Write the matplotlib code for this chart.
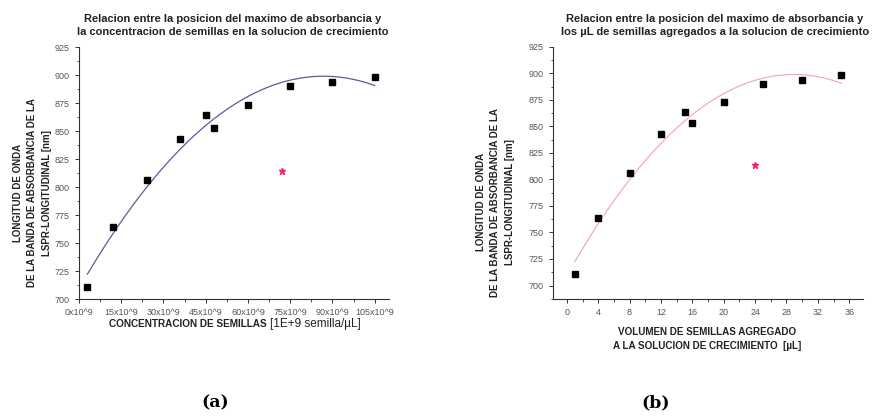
import numpy as np
import matplotlib.pyplot as plt
from matplotlib.ticker import MultipleLocator

# concentration of seeds [1E+9 semilla/uL] and added volume [uL]
conc = [3, 12, 24, 36, 45, 48, 60, 75, 90, 105]
vol = [1, 4, 8, 12, 15, 16, 20, 25, 30, 35]
peak_nm = [711, 764, 806, 843, 864, 853, 873, 890, 894, 898]

# outlier (red point), left out of the fit
conc_out = [72]
vol_out = [24]
peak_out = [814]

conc_ticks = [0, 15, 30, 45, 60, 75, 90, 105]
vol_ticks = [0, 4, 8, 12, 16, 20, 24, 28, 32, 36]

plt.rcParams['font.family'] = ['Liberation Sans', 'DejaVu Sans']

fig = plt.figure(figsize=(8.75, 4.16), dpi=100)
axL = fig.add_axes([0.0903, 0.281, 0.354, 0.606])
axR = fig.add_axes([0.6317, 0.2805, 0.355, 0.607])


def style(ax):
    for s in ['top', 'right']:
        ax.spines[s].set_visible(False)
    for s in ['left', 'bottom']:
        ax.spines[s].set_color('#333333')
        ax.spines[s].set_linewidth(0.8)
    ax.tick_params(which='major', direction='out', length=3, width=0.7,
                   colors='#333333', labelsize=6.5, labelcolor='#555555')
    ax.tick_params(which='minor', direction='out', length=1.8, width=0.6,
                   colors='#333333')
    ax.yaxis.set_major_locator(MultipleLocator(25))
    ax.yaxis.set_minor_locator(MultipleLocator(12.5))


# (a) concentration
c = np.polyfit(conc, peak_nm, 2)
xs = np.linspace(conc[0], conc[-1], 200)
axL.plot(xs, np.polyval(c, xs), color='#5b5b99', lw=0.9)
axL.plot(conc, peak_nm, 's', color='black', ms=5)
axL.plot(conc_out, peak_out, '*', color='#ff2060', ms=5)
axL.set_xlim(0, 110)
axL.set_ylim(700, 925)
style(axL)
axL.set_xticks(conc_ticks)
axL.set_xticklabels([f"{v}x10^9" for v in conc_ticks])
axL.xaxis.set_minor_locator(MultipleLocator(7.5))

# (b) volume
c2 = np.polyfit(vol, peak_nm, 2)
xs2 = np.linspace(vol[0], vol[-1], 200)
axR.plot(xs2, np.polyval(c2, xs2), color='#f2a2b6', lw=0.8)
axR.plot(vol, peak_nm, 's', color='black', ms=5)
axR.plot(vol_out, peak_out, '*', color='#ff2060', ms=5)
axR.set_xlim(-1.8, 37.8)
axR.set_ylim(687, 925)
style(axR)
axR.set_xticks(vol_ticks)
axR.xaxis.set_minor_locator(MultipleLocator(2))

# titles
fig.text(0.266, 0.939, "Relacion entre la posicion del maximo de absorbancia y\n"
         "la concentracion de semillas en la solucion de crecimiento",
         ha='center', va='center', fontsize=8, fontweight='bold', color='#222222',
         linespacing=1.3)
fig.text(0.817, 0.939, "Relacion entre la posicion del maximo de absorbancia y\n"
         "los \u00b5L de semillas agregados a la solucion de crecimiento",
         ha='center', va='center', fontsize=8, fontweight='bold', color='#222222',
         linespacing=1.3)

# y labels
ylab = "LONGITUD DE ONDA\nDE LA BANDA DE ABSORBANCIA DE LA\nLSPR-LONGITUDINAL [nm]"
fig.text(0.037, 0.536, ylab, rotation=90, ha='center', va='center', fontsize=7,
         fontweight='bold', color='#222222', linespacing=1.55)
fig.text(0.566, 0.514, ylab, rotation=90, ha='center', va='center', fontsize=7,
         fontweight='bold', color='#222222', linespacing=1.55)

# x labels
fig.text(0.305, 0.221, "CONCENTRACION DE SEMILLAS", ha='right', va='center',
         fontsize=7.2, fontweight='bold', color='#222222')
fig.text(0.308, 0.221, "[1E+9 semilla/\u00b5L]", ha='left', va='center',
         fontsize=8.5, color='#222222')
fig.text(0.808, 0.186, "VOLUMEN DE SEMILLAS AGREGADO\nA LA SOLUCION DE CRECIMIENTO  [\u00b5L]",
         ha='center', va='center', fontsize=7.1, fontweight='bold', color='#222222',
         linespacing=1.5)

fig.text(0.246, 0.031, "(a)", ha='center', va='center', fontsize=12.5,
         fontweight='bold', family='DejaVu Serif')
fig.text(0.749, 0.031, "(b)", ha='center', va='center', fontsize=12.5,
         fontweight='bold', family='DejaVu Serif')

fig.savefig("out.png", dpi=100)
